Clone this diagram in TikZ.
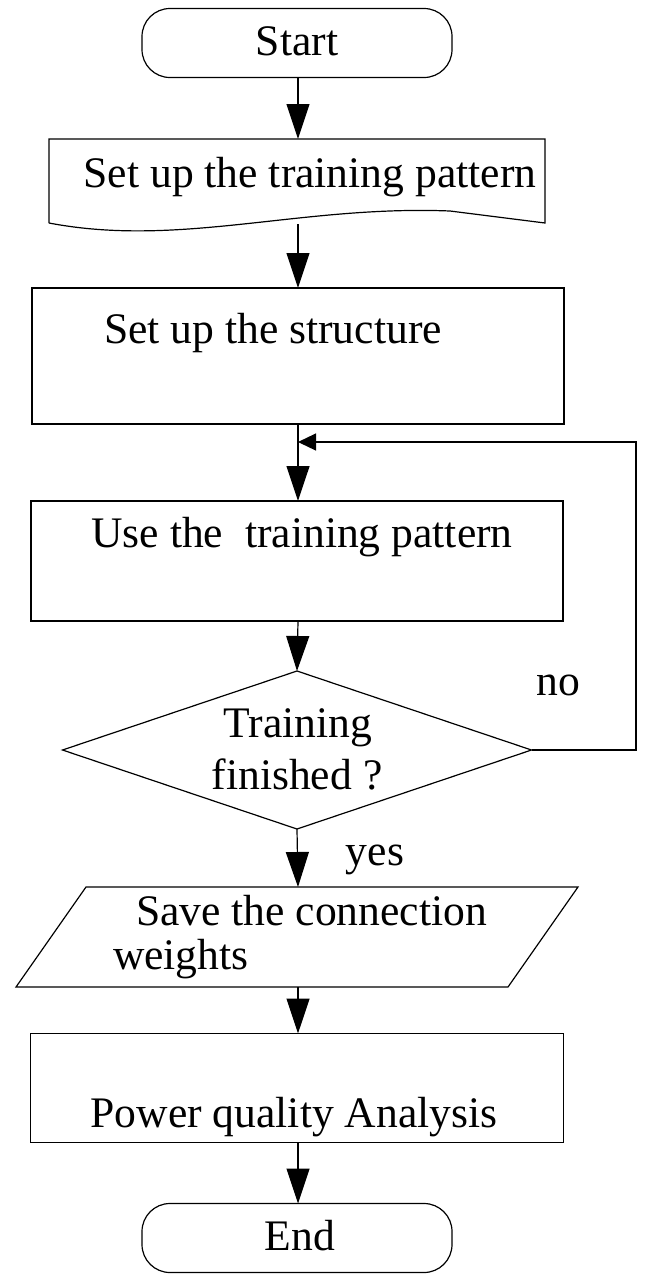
\documentclass[tikz,border=0pt]{standalone}
\usepackage{fontspec}
\setmainfont{Liberation Serif}
\usetikzlibrary{arrows.meta,shapes.geometric}
\begin{document}
\begin{tikzpicture}[x=1pt,y=-1pt,
  line width=1.2pt,
  every node/.style={inner sep=0pt,outer sep=0pt},
  txt/.style={font=\fontsize{43.6}{52}\selectfont,anchor=base},
  term/.style={draw,rectangle,rounded corners=28pt,minimum width=310pt,minimum height=69pt},
  procbox/.style={draw,rectangle},
  flow/.style={-{Triangle[length=35pt,width=23pt]}},
  loopflow/.style={-{Triangle[length=18pt,width=17pt]}}
]
\useasboundingbox (0,0) rectangle (649,1280);
\fill[white] (0,0) rectangle (649,1280);

% Start
\node[term] (start) at (297,43) {};
\node[txt] (starttxt) at (297,55) {Start};

% Document shape
\draw (49,223) -- (49,139) -- (545,139) -- (545,223)
  -- (450,211) .. controls (300,205) and (180,248) .. (49,223);
\coordinate (doctop) at (298,139);
\coordinate (docbot) at (298,224);
\node[txt] (doctxt) at (310,187) {Set up the training pattern};

% Structure box
\node[procbox,minimum width=532pt,minimum height=136pt] (struct) at (298,356) {};
\node[txt] (structtxt) at (273,343) {Set up the structure};

% Use box
\node[procbox,minimum width=532pt,minimum height=120pt] (use) at (297,561) {};
\node[txt] (usetxt) at (302,547) {Use the\ \ training pattern};

% Decision
\node[draw,diamond,minimum width=469pt,minimum height=158pt] (dec) at (297,750) {};
\node[txt] (dectxt1) at (298,737) {Training};
\node[txt] (dectxt2) at (297,789) {finished ?};
\node[txt] (no) at (558,695) {no};
\node[txt] (yes) at (375,865) {yes};

% Save (parallelogram)
\draw (86,887) -- (578,887) -- (508,987) -- (16,987) -- cycle;
\coordinate (savetop) at (298,887);
\coordinate (savebot) at (298,987);
\node[txt,anchor=base west] (savetxt1) at (136,925) {Save the connection};
\node[txt,anchor=base west] (savetxt2) at (113,969) {weights};

% Power quality box
\node[procbox,minimum width=533pt,minimum height=109pt] (pqa) at (297,1088) {};
\node[txt] (pqatxt) at (294,1127) {Power quality Analysis};

% End
\node[term] (end) at (297,1238) {};
\node[txt] (endtxt) at (300,1250) {End};

% Connectors
\coordinate (loopright) at (636,750);
\coordinate (looptop) at (636,442);
\coordinate (loopin) at (298,442);
\draw[flow] (start.south -| doctop) -- (doctop);
\draw[flow] (docbot) -- (struct.north -| docbot);
\draw[flow] (struct.south -| docbot) -- (use.north -| docbot);
\draw[flow] (use.south -| docbot) -- (dec.north);
\draw[flow] (dec.south) -- (savetop);
\draw[flow] (savebot) -- (pqa.north -| savebot);
\draw[flow] (pqa.south -| savebot) -- (end.north -| savebot);
\draw[loopflow] (dec.east) -- (loopright) -- (looptop) -- (loopin);
\end{tikzpicture}
\end{document}
